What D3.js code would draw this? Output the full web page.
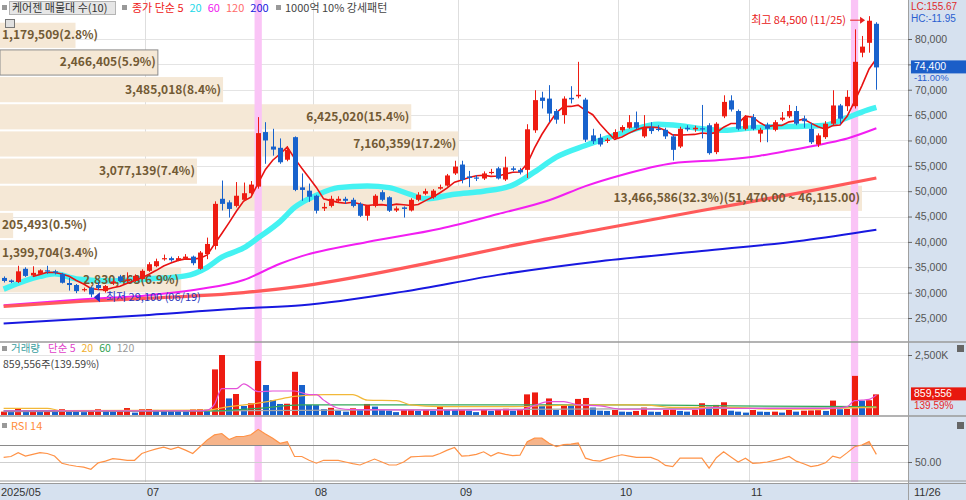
<!DOCTYPE html>
<html>
<head>
<meta charset="utf-8">
<script src="https://cdn.jsdelivr.net/npm/d3@7"></script>
<style>
body { margin: 0; background: #fff; }
svg { display: block; font-family: "Noto Sans CJK KR", "Noto Sans", sans-serif; }
.num { font-family: "Liberation Sans", Arial, sans-serif; }
</style>
</head>
<body>
<svg id="svg" width="966" height="500"></svg>
<script>
// 일봉 (2025/05/30 ~ 2025/11/26), 121 거래일
const opens = [32900,32400,32100,34700,33400,33700,34400,34200,33700,31900,
  31500,30500,31000,31500,30300,31800,33200,32300,32300,32700,
  34300,35200,36600,36800,36400,36700,37100,34700,37600,39200,
  48500,47800,47100,48300,49600,50900,61650,58800,58550,56200,
  60650,50750,50100,49100,46600,47100,48100,48500,48300,47500,
  45150,47100,49800,48800,46200,46800,46200,48300,49500,48800,
  50500,51100,53500,55250,52900,52700,52500,53600,54500,52300,
  54500,54200,54200,62000,68450,68250,65800,65000,68400,68700,
  68050,61000,60500,59900,60500,62000,62500,63600,60800,62500,
  62300,62100,60800,58800,62500,62200,62400,63000,57700,64750,
  67900,65800,62300,64600,61350,63100,62100,64100,64750,65800,
  64300,62300,59200,60650,63300,66900,66750,66750,77300,79250,
  83000];
const highs = [33200,32600,35300,35000,35200,34600,35300,34500,33900,32900,
  31700,31000,31200,32100,31500,32500,33500,34000,33600,34600,
  36000,36700,37500,37100,37200,37600,37300,38200,40850,48000,
  52100,48200,51800,51700,52000,64600,63600,62300,60400,58900,
  60800,53500,51500,49300,47700,49100,49000,48900,48700,47800,
  47300,49400,50200,49000,47000,47000,48600,49800,50500,50400,
  51300,53400,56000,56000,54000,53200,53900,54400,54800,56800,
  54900,54600,63200,69900,69600,70900,66200,68700,70700,75500,
  68400,62300,61300,60500,62200,63000,65000,65700,65000,63600,
  63000,62500,61200,62700,63000,62900,67000,63400,63600,68900,
  68900,66100,65000,65200,62500,63500,64000,65600,67000,66800,
  64900,63500,61400,63800,69900,67200,69900,81900,80600,84500,
  83300];
const lows = [32000,31900,31900,33100,33200,33500,33700,33600,31800,30400,
  29900,30200,29100,30500,30000,31500,32000,32000,32100,32500,
  34100,35000,36300,36100,36200,36500,35400,34500,36600,38500,
  46200,44800,46800,48000,49300,50500,55400,57000,55400,55900,
  50000,48100,47900,45600,46100,46800,47700,47500,46800,44900,
  44200,46800,48000,45900,45900,44800,46000,48000,49200,48500,
  50300,50900,53200,51550,50800,52000,52200,53300,52300,52000,
  53900,53300,52600,61500,66300,63600,63300,63300,67300,68300,
  59700,59300,58800,59500,60100,61600,62300,62200,60500,61300,
  61800,60300,56050,58500,61800,61700,60400,57200,57300,64400,
  65700,62000,62000,62000,59650,59650,61800,63800,64400,63000,
  62500,59300,58700,60300,63000,63200,65800,66300,76400,77300,
  70000];
const closes = [32300,32100,34200,33300,33900,34400,34200,34000,31950,31500,
  30300,30700,29650,30900,31300,32200,32300,32600,33300,34300,
  35600,36200,36800,36400,36800,37100,35800,37900,39600,47500,
  47500,46500,49100,49600,51300,61450,60000,58200,55700,58150,
  50250,50250,48900,46150,46900,48500,48500,48100,47100,45150,
  47100,49100,48300,46150,46600,46500,48300,49300,50000,50100,
  50800,53100,54850,52200,52600,52500,53500,53800,52500,54700,
  54200,53700,62200,67950,67800,65300,64100,68250,68100,69000,
  60150,59850,59200,60150,61650,62650,63600,62500,62500,61850,
  62200,60800,58150,62300,62200,62500,62200,57500,63300,67600,
  66100,62300,64600,62300,62100,62300,63600,64500,65800,63300,
  63800,59650,61000,63300,66900,64300,68600,75500,78500,83600,
  74400];
// 거래량 (천주)
const volumes = [140,130,250,140,150,140,160,150,240,200,
  170,120,170,240,170,140,150,290,100,240,
  250,210,180,170,160,150,230,240,220,1900,
  2500,690,875,375,490,2250,1250,625,460,470,
  1800,1250,420,410,240,300,180,140,280,240,
  460,350,210,180,120,210,220,170,210,170,
  375,240,230,240,180,120,210,170,250,260,
  180,210,860,940,375,690,210,420,410,670,
  710,310,180,170,210,140,130,170,310,140,
  130,210,220,170,140,210,490,350,420,530,
  180,140,100,210,140,130,140,100,210,140,
  180,190,200,170,600,240,250,1630,600,615.77,
  859.556];
const rsi = [55.5,56.5,61,57,59,61,60,57,48.5,46.5,
  45,44,41.4,49,51,54,53,52,52,60,
  63,65.5,67.5,65,67.5,64,60,68,76,82,
  83.5,76.5,80,80,82,88.4,83,78,72,74,
  56.5,56.5,52,48.6,52,52,52,50,48,46.5,
  50,53.5,50,46.5,46.5,50,56,56.5,57,57,
  60,64,67,57,57.5,59,62,57,61,59,
  57.5,58,74,78,78,72,68,70.5,71,72.5,
  54.5,52,51,54,56.5,58.5,57,55.5,55.5,55.5,
  52,46,44.5,54.5,54.5,54.5,54.5,42.7,55,62,
  56,50,54.5,48.5,49,50,52,54,56.5,51,
  48,44.5,46,49,57,54.5,61,68,70,74,
  59];

// 이동평균선 (그림에서 읽은 값: [봉 index, 값])
const ma20 = [[0,30700],[5,33200],[7,33700],[10,32700],[15,32300],[20,32700],[25,33300],[28,35000],[30,37000],[33,38800],[35,40800],[38,44000],[40,46800],[43,49200],[46,50700],[50,51000],[53,50700],[56,49300],[58,48500],[62,49400],[66,50000],[70,51200],[73,53800],[76,56700],[80,59000],[83,60500],[86,61900],[90,63200],[93,62900],[96,62300],[99,62000],[103,62500],[106,62700],[110,62800],[113,63000],[116,64500],[118,65600],[120,66500]];
const ma60 = [[0,27500],[11,28700],[20,29500],[27,30700],[33,32500],[38,35700],[41,37200],[50,40000],[60,42600],[68,45500],[75,48200],[80,51000],[85,53200],[92,55500],[99,56200],[104,57000],[108,58000],[113,59400],[116,60400],[120,62400]];
const ma120 = [[0,27300],[11,28300],[20,28900],[33,30000],[41,31300],[60,36300],[69,39000],[82,42500],[96,46200],[110,49800],[120,52600]];
const ma200 = [[0,23900],[20,25600],[33,26900],[41,27500],[55,30200],[68,33500],[82,36200],[96,38200],[110,40300],[120,42400]];
const volMa5 = [[0,170],[27,170],[28,200],[29,450],[30,1100],[32,1100],[33,1300],[35,970],[37,1000],[40,1000],[42,850],[43,850],[44,620],[46,280],[48,220],[60,200],[66,210],[71,210],[73,400],[75,560],[77,560],[79,420],[82,380],[85,240],[95,240],[98,320],[100,280],[114,280],[116,350],[117,600],[118,620],[119,650],[120,830]];
const volMa20 = [[0,280],[6,280],[8,180],[28,200],[31,350],[34,450],[37,600],[40,780],[44,850],[48,850],[50,620],[54,600],[56,420],[60,350],[70,350],[80,420],[88,420],[92,320],[100,320],[106,240],[112,240],[116,300],[120,330]];
const volMa60 = [[0,170],[28,170],[35,280],[41,420],[65,420],[85,420],[100,380],[120,350]];
const volMa120 = [[0,140],[60,220],[120,310]];

// 매물대 (10)
const profileEdges = [83600,78245,72890,67535,62180,56825,51470,46115,40760,35405,30050];
const profileVol = [1179509,2466405,3485018,6425020,7160359,3077139,13466586,205493,1399704,2830463];
const profilePct = [2.8,5.9,8.4,15.4,17.2,7.4,32.3,0.5,3.4,6.9];

// 축
const priceTicks = [25000,30000,35000,40000,45000,50000,55000,60000,65000,70000,75000,80000];
const monthIdx = [0,20,43,63,85,103];
const monthLabels = ["2025/05","07","08","09","10","11"];
const lastDateLabel = "11/26";
const highlightIdx = [35,117]; // 1000억 10% 강세패턴
const hiDate = "11/25", loDate = "06/19";

const RED = "#ee1c12", BLUE = "#1862cc";
const plotW = 908;
const fmt = d3.format(",");

const svg = d3.select("#svg");

// 배경
svg.append("rect").attr("x", plotW).attr("y", 0).attr("width", 966 - plotW).attr("height", 500).attr("fill", "#d6e1ef");
svg.append("rect").attr("x", 0).attr("y", 483).attr("width", 966).attr("height", 17).attr("fill", "#d6e1ef");

// 스케일
const xScale = d3.scaleBand().domain(d3.range(closes.length)).range([0, 880]).paddingInner(0.2).paddingOuter(0.1);
const gap = xScale.step() - xScale.bandwidth();
const cx = i => xScale(i) + xScale.bandwidth() / 2;
const yScale = d3.scaleLinear().domain([25000, 80000]).range([318, 39]);
const vScale = d3.scaleLinear().domain([0, 2500]).range([415, 355]);
const rScale = d3.scaleLinear().domain([50, 70]).range([462, 445]);

const defs = svg.append("defs");
defs.append("clipPath").attr("id", "clipMain").append("rect").attr("x", 0).attr("y", 0).attr("width", plotW).attr("height", 342);
defs.append("clipPath").attr("id", "clipVol").append("rect").attr("x", 0).attr("y", 343).attr("width", plotW).attr("height", 73);
defs.append("clipPath").attr("id", "clipRsiTop").append("rect").attr("x", 0).attr("y", 417).attr("width", plotW).attr("height", rScale(70) - 417);

// 격자
const grid = svg.append("g");
grid.selectAll(".hg").data(priceTicks).join("line")
  .attr("x1", 0).attr("x2", plotW)
  .attr("y1", d => Math.round(yScale(d)) + 0.5).attr("y2", d => Math.round(yScale(d)) + 0.5)
  .attr("stroke", "#e4e4e4");
grid.append("line").attr("x1", 0).attr("x2", plotW).attr("y1", vScale(2500) + 0.5).attr("y2", vScale(2500) + 0.5).attr("stroke", "#e4e4e4");
grid.selectAll(".vg").data(monthIdx.slice(1)).join("line")
  .attr("x1", d => Math.round(xScale(d) - gap / 2) + 0.5).attr("x2", d => Math.round(xScale(d) - gap / 2) + 0.5)
  .attr("y1", 0).attr("y2", 482)
  .attr("stroke", "#dedede");

// 매물대
const profX = d3.scaleLinear().domain([0, d3.max(profileVol)]).range([0, 862]);
const lastClose = closes[closes.length - 1];
const prof = svg.append("g").attr("clip-path", "url(#clipMain)");
profileVol.forEach((v, k) => {
  const y0 = yScale(profileEdges[k]) + 2, y1 = yScale(profileEdges[k + 1]);
  const cur = lastClose <= profileEdges[k] && lastClose > profileEdges[k + 1];
  prof.append("rect").attr("x", 0).attr("y", y0).attr("width", profX(v)).attr("height", y1 - y0)
    .attr("fill", "#f5e8d6").attr("stroke", cur ? "#8c8c8c" : "none");
});

// 강세패턴 강조
svg.append("g").selectAll("rect").data(highlightIdx).join("rect")
  .attr("x", d => xScale(d) - gap / 2).attr("width", xScale.step())
  .attr("y", 0).attr("height", 482).attr("fill", "#fac4f6");

// 이동평균선
const maLine = d3.line().x(d => cx(d[0])).y(d => yScale(d[1])).curve(d3.curveMonotoneX);
const main = svg.append("g").attr("clip-path", "url(#clipMain)");
main.append("path").attr("d", maLine(ma200)).attr("fill", "none").attr("stroke", "#1818e0").attr("stroke-width", 2);
main.append("path").attr("d", maLine(ma60)).attr("fill", "none").attr("stroke", "#f21ef2").attr("stroke-width", 2);
main.append("path").attr("d", maLine(ma120)).attr("fill", "none").attr("stroke", "#ff5a5a").attr("stroke-width", 3.2);
main.append("path").attr("d", maLine(ma20)).attr("fill", "none").attr("stroke", "#44f2f2").attr("stroke-width", 5.5);

// 매물대 라벨
const maxK = d3.maxIndex(profileVol);
profileVol.forEach((v, k) => {
  let s = fmt(v) + "(" + profilePct[k].toFixed(1) + "%)";
  if (k === maxK) s += "(" + d3.format(",.2f")(profileEdges[k]) + " ~ " + d3.format(",.2f")(profileEdges[k + 1]) + ")";
  const ym = (yScale(profileEdges[k]) + yScale(profileEdges[k + 1])) / 2 + 5;
  const t = main.append("text").attr("y", ym).text(s)
    .attr("fill", "#725a34").attr("font-size", 12).attr("font-weight", "bold");
  const tw = t.node().getComputedTextLength();
  if (profX(v) > tw + 4) t.attr("x", profX(v) - 2).attr("text-anchor", "end");
  else t.attr("x", 2);
});

const ma5 = d3.range(4, closes.length).map(i => [i, d3.mean(closes.slice(i - 4, i + 1))]);
main.append("path").attr("d", d3.line().x(d => cx(d[0])).y(d => yScale(d[1]))(ma5))
  .attr("fill", "none").attr("stroke", "#e81212").attr("stroke-width", 1.6);

// 캔들
const candles = main.selectAll(".c").data(d3.range(closes.length)).join("g");
candles.append("line")
  .attr("x1", i => Math.round(cx(i)) + 0.5).attr("x2", i => Math.round(cx(i)) + 0.5)
  .attr("y1", i => yScale(highs[i])).attr("y2", i => yScale(lows[i]))
  .attr("stroke", i => closes[i] >= opens[i] ? RED : BLUE);
candles.append("rect")
  .attr("x", i => Math.round(cx(i)) - 2).attr("width", 5)
  .attr("y", i => yScale(Math.max(opens[i], closes[i])))
  .attr("height", i => Math.max(1.2, Math.abs(yScale(opens[i]) - yScale(closes[i]))))
  .attr("fill", i => closes[i] >= opens[i] ? RED : BLUE);

// 최고/최저 표시
const hiI = d3.maxIndex(highs), loI = d3.minIndex(lows);
const hy = yScale(highs[hiI]) + 4;
svg.append("text").attr("x", cx(hiI) - 23).attr("y", hy + 4).attr("text-anchor", "end")
  .attr("fill", "#e82020").attr("font-size", 11).text("최고 " + fmt(highs[hiI]) + " (" + hiDate + ")");
svg.append("line").attr("x1", cx(hiI) - 19).attr("x2", cx(hiI) - 8).attr("y1", hy).attr("y2", hy).attr("stroke", "#e82020");
svg.append("path").attr("d", `M${cx(hiI) - 4},${hy} l-5,-3.5 l0,7 z`).attr("fill", "#e82020");
const ly = yScale(lows[loI]);
svg.append("path").attr("d", `M${cx(loI) + 3},${ly} l6,-5 l0,10 z`).attr("fill", "#2030c8");
svg.append("text").attr("x", cx(loI) + 15).attr("y", ly + 4)
  .attr("fill", "#2a38c0").attr("font-size", 11).text("최저 " + fmt(lows[loI]) + " (" + loDate + ")");

// 거래량
const vol = svg.append("g").attr("clip-path", "url(#clipVol)");
vol.selectAll("rect").data(volumes).join("rect")
  .attr("x", (d, i) => Math.round(xScale(i))).attr("width", 6)
  .attr("y", d => vScale(d)).attr("height", d => vScale(0) - vScale(d))
  .attr("fill", (d, i) => i === 0 || d >= volumes[i - 1] ? RED : BLUE);
const vLine = d3.line().x(d => cx(d[0])).y(d => vScale(d[1])).curve(d3.curveMonotoneX);
vol.append("path").attr("d", vLine(volMa120)).attr("fill", "none").attr("stroke", "#a8a8a8").attr("stroke-width", 1.2);
vol.append("path").attr("d", vLine(volMa60)).attr("fill", "none").attr("stroke", "#34a85a").attr("stroke-width", 1.2);
vol.append("path").attr("d", vLine(volMa20)).attr("fill", "none").attr("stroke", "#f2b838").attr("stroke-width", 1.2);
vol.append("path").attr("d", vLine(volMa5)).attr("fill", "none").attr("stroke", "#e452d8").attr("stroke-width", 1.2);

// RSI
svg.append("line").attr("x1", 0).attr("x2", plotW).attr("y1", rScale(50) + 0.5).attr("y2", rScale(50) + 0.5).attr("stroke", "#cfcfcf");
svg.append("line").attr("x1", 0).attr("x2", plotW).attr("y1", rScale(70) + 0.5).attr("y2", rScale(70) + 0.5).attr("stroke", "#8a8a8a");
svg.append("path").attr("clip-path", "url(#clipRsiTop)")
  .attr("d", d3.area().x((d, i) => cx(i)).y0(rScale(70)).y1(d => rScale(d))(rsi))
  .attr("fill", "#f6b48a");
svg.append("path").attr("d", d3.line().x((d, i) => cx(i)).y(d => rScale(d))(rsi))
  .attr("fill", "none").attr("stroke", "#ff9246").attr("stroke-width", 1.2);

// 패널 구분선
[342, 416].forEach(y => svg.append("line").attr("x1", 0).attr("x2", 966).attr("y1", y).attr("y2", y).attr("stroke", "#9a9a9a").attr("stroke-width", 1.5));
[481, 483.5].forEach(y => svg.append("line").attr("x1", 0).attr("x2", 966).attr("y1", y).attr("y2", y).attr("stroke", "#9a9a9a"));
svg.append("line").attr("x1", plotW + 0.5).attr("x2", plotW + 0.5).attr("y1", 0).attr("y2", 500).attr("stroke", "#a0a0a0");

// 오른쪽 축
const py = yScale(lastClose);
function styleAxis(g) {
  g.select(".domain").remove();
  g.selectAll("text").attr("fill", "#555").attr("font-size", 10.5).attr("class", "num").attr("font-family", null);
  g.selectAll("line").attr("stroke", "#666");
}
// 현재가 박스에 가려지는 눈금 글자는 생략
const priceLabelTicks = priceTicks.filter(d => Math.abs(yScale(d) - py) > 16);
svg.append("g").attr("transform", `translate(${plotW},0)`)
  .call(d3.axisRight(yScale).tickValues(priceTicks).tickFormat(d => priceLabelTicks.includes(d) ? fmt(d) : "").tickSize(4).tickPadding(3)).call(styleAxis);
svg.append("g").attr("transform", `translate(${plotW},0)`)
  .call(d3.axisRight(vScale).tickValues([2500]).tickFormat(d => fmt(d) + "K").tickSize(4).tickPadding(3)).call(styleAxis);
svg.append("g").attr("transform", `translate(${plotW},0)`)
  .call(d3.axisRight(rScale).tickValues([50]).tickFormat(d3.format(".2f")).tickSize(4).tickPadding(3)).call(styleAxis);

// LC / HC
const lc = (lastClose / lows[loI] - 1) * 100, hc = (lastClose / highs[hiI] - 1) * 100;
svg.append("text").attr("class", "num").attr("x", plotW + 3).attr("y", 10).attr("fill", "#e02a2a").attr("font-size", 10).text("LC:" + lc.toFixed(2));
svg.append("text").attr("class", "num").attr("x", plotW + 3).attr("y", 22).attr("fill", "#2a5ed0").attr("font-size", 10).text("HC:" + hc.toFixed(2));

// 현재가
const chg = (lastClose / closes[closes.length - 2] - 1) * 100;
svg.append("rect").attr("x", plotW + 3).attr("y", py - 7).attr("width", 966 - plotW - 3).attr("height", 13).attr("fill", "#1b5ec8");
svg.append("text").attr("class", "num").attr("x", plotW + 6).attr("y", py + 3).attr("fill", "#fff").attr("font-size", 10.5).text(fmt(lastClose));
svg.append("text").attr("class", "num").attr("x", plotW + 6).attr("y", py + 14).attr("fill", "#2a5ed0").attr("font-size", 9.5).text(chg.toFixed(2) + "%");

const lastVol = volumes[volumes.length - 1], prevVol = volumes[volumes.length - 2];
const vy = vScale(lastVol);
svg.append("rect").attr("x", plotW + 3).attr("y", vy - 7).attr("width", 966 - plotW - 3).attr("height", 13).attr("fill", "#e8180e");
svg.append("text").attr("class", "num").attr("x", plotW + 6).attr("y", vy + 3).attr("fill", "#fff").attr("font-size", 10.5).text(fmt(Math.round(lastVol * 1000)));
svg.append("text").attr("class", "num").attr("x", plotW + 6).attr("y", vy + 15).attr("fill", "#e82a2a").attr("font-size", 10).text((lastVol / prevVol * 100).toFixed(2) + "%");
[345, 422].forEach(y => svg.append("rect").attr("x", 957).attr("y", y).attr("width", 7).attr("height", 7).attr("fill", "#666"));

// 날짜 축
svg.append("g").selectAll("text").data(monthIdx).join("text")
  .attr("class", "num")
  .attr("x", (d, i) => i === 0 ? 1 : Math.round(xScale(d) - gap / 2) + 2)
  .attr("y", 496).attr("fill", "#333").attr("font-size", 11)
  .text((d, i) => monthLabels[i]);
svg.append("text").attr("class", "num").attr("x", plotW + 6).attr("y", 496).attr("fill", "#333").attr("font-size", 11).text(lastDateLabel);

// 범례
function legend(y, items, x0, size = 11) {
  const t = svg.append("text").attr("x", x0).attr("y", y).attr("font-size", size);
  items.forEach((it, k) => t.append("tspan").attr("dx", k === 0 ? 0 : (it[2] || 5)).attr("fill", it[1]).text(it[0]));
  return t;
}
svg.append("rect").attr("x", 2).attr("y", 5).attr("width", 5).attr("height", 5).attr("fill", "#999");
svg.append("rect").attr("x", 9.5).attr("y", 1.5).attr("width", 106).attr("height", 13).attr("fill", "#e6e6e6").attr("stroke", "#b4b4b4");
legend(12, [["케어젠 매물대 수(10)", "#333"]], 12);
svg.append("rect").attr("x", 122).attr("y", 5).attr("width", 5).attr("height", 5).attr("fill", "#999");
legend(12, [["종가 단순 5", "#ee2020"], ["20", "#22d8e8", 6], ["60", "#f020f0", 6], ["120", "#ff6a6a", 6], ["200", "#2020e0", 6]], 132);
svg.append("rect").attr("x", 276).attr("y", 5).attr("width", 5).attr("height", 5).attr("fill", "#999");
legend(12, [["1000억 10% 강세패턴", "#444"]], 285);
svg.append("rect").attr("x", 5.5).attr("y", 19.5).attr("width", 9).attr("height", 8).attr("fill", "#e0e0e0").attr("stroke", "#777");

svg.append("rect").attr("x", 2).attr("y", 346).attr("width", 5).attr("height", 5).attr("fill", "#999");
legend(352, [["거래량", "#3a9ea0"], ["단순 5", "#e040c8", 8], ["20", "#f0b030", 6], ["60", "#30a050", 6], ["120", "#999", 6]], 11, 10.5);
svg.append("text").attr("x", 3).attr("y", 368).attr("fill", "#444").attr("font-size", 10.5)
  .text(fmt(Math.round(lastVol * 1000)) + "주(" + (lastVol / prevVol * 100).toFixed(2) + "%)");
svg.append("rect").attr("x", 2).attr("y", 423).attr("width", 5).attr("height", 5).attr("fill", "#999");
legend(430, [["RSI 14", "#ff8c3a"]], 11);
</script>
</body>
</html>
